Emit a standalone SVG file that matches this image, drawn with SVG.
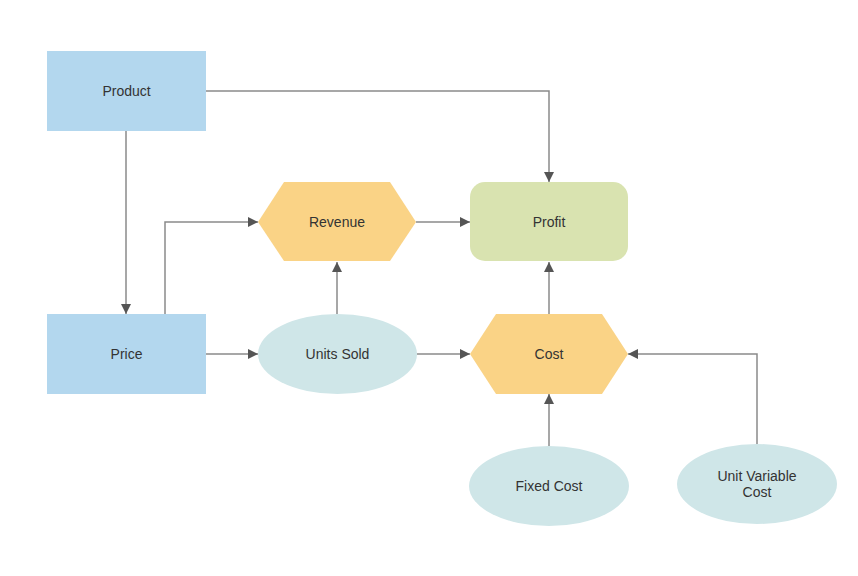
<svg xmlns="http://www.w3.org/2000/svg" width="858" height="576" viewBox="0 0 858 576">
<defs>
<marker id="arr" viewBox="0 0 10 10" refX="10" refY="5" markerWidth="10" markerHeight="10" markerUnits="userSpaceOnUse" orient="auto">
<path d="M0,0 L10,5 L0,10 Z" fill="#555"/>
</marker>
<style>
.lbl{font-family:"Liberation Sans",Arial,sans-serif;font-size:14px;fill:#333;text-anchor:middle;dominant-baseline:central}
.blue{fill:#b3d7ee}
.orange{fill:#fad386}
.green{fill:#d9e3b0}
.teal{fill:#cfe6e8}
.edge{fill:none;stroke:#8a8a8a;stroke-width:1.5;marker-end:url(#arr)}
</style>
</defs>
<rect width="858" height="576" fill="#fff"/>
<g id="connectors">
<path class="edge" d="M206,91 H549 V182"/>
<path class="edge" d="M126,131 V314"/>
<path class="edge" d="M165,314 V222 H258"/>
<path class="edge" d="M206,354 H258"/>
<path class="edge" d="M337,314 V262"/>
<path class="edge" d="M416,222 H470"/>
<path class="edge" d="M417,354 H470"/>
<path class="edge" d="M549,314 V262"/>
<path class="edge" d="M549,446 V394"/>
<path class="edge" d="M757,444 V354 H628"/>
</g>
<g id="product"><rect class="blue" x="47" y="51" width="159" height="80"/><text class="lbl" x="126.5" y="91">Product</text></g>
<g id="price"><rect class="blue" x="47" y="314" width="159" height="80"/><text class="lbl" x="126.5" y="354">Price</text></g>
<g id="revenue"><polygon class="orange" points="258,222 284,182 390,182 416,222 390,261 284,261"/><text class="lbl" x="337" y="222">Revenue</text></g>
<g id="profit"><rect class="green" x="470" y="182" width="158" height="79" rx="15"/><text class="lbl" x="549" y="222">Profit</text></g>
<g id="units-sold"><ellipse class="teal" cx="337.5" cy="354" rx="79.5" ry="40"/><text class="lbl" x="337.5" y="354">Units Sold</text></g>
<g id="cost"><polygon class="orange" points="470,354 496,314 602,314 628,354 602,394 496,394"/><text class="lbl" x="549" y="354">Cost</text></g>
<g id="fixed-cost"><ellipse class="teal" cx="549" cy="486" rx="80" ry="40"/><text class="lbl" x="549" y="486">Fixed Cost</text></g>
<g id="unit-variable-cost"><ellipse class="teal" cx="757" cy="484" rx="80" ry="40"/><text class="lbl" x="757" y="476">Unit Variable</text><text class="lbl" x="757" y="492">Cost</text></g>
</svg>
